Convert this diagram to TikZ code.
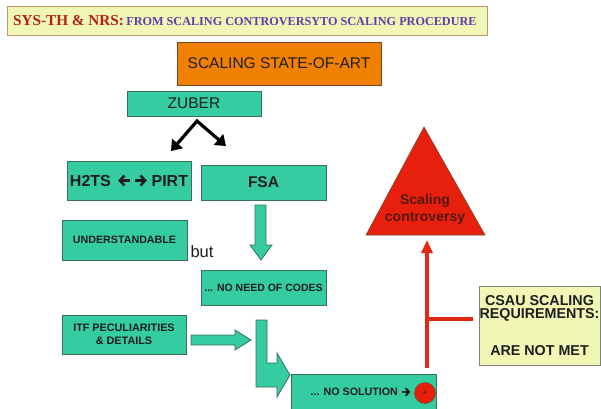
\documentclass[tikz,border=0pt]{standalone}
\usepackage{fontspec}
\setmainfont{Liberation Sans}
\newfontfamily\titleserif{Liberation Serif}
\usetikzlibrary{arrows.meta}

\definecolor{teal1}{RGB}{52,204,160}
\definecolor{tealedge}{RGB}{60,110,90}
\definecolor{orange1}{RGB}{240,128,0}
\definecolor{orangeedge}{RGB}{120,70,40}
\definecolor{paleyel}{RGB}{240,246,180}
\definecolor{titleedge}{RGB}{190,150,110}
\definecolor{titlered}{RGB}{180,30,30}
\definecolor{titlepurple}{RGB}{100,60,170}
\definecolor{redfill}{RGB}{230,32,12}
\definecolor{redline}{RGB}{228,40,20}
\definecolor{txtdark}{RGB}{30,30,30}
\definecolor{trianglesay}{RGB}{85,25,20}

% heavy in-line arrows with chevron heads, centred on the capitals:
% #1 = length, #2 = stroke, #3 = head width
\newcommand{\chevright}[3]{\tikz[baseline={(0pt,-0.7ex)}]\draw[txtdark, line width=#2,
  line cap=butt, -{Straight Barb[length=0.45*#3,width=#3,line width=#2]}] (0pt,0pt) -- (#1,0pt);}
\newcommand{\chevleft}[3]{\tikz[baseline={(0pt,-0.7ex)}]\draw[txtdark, line width=#2,
  line cap=butt, {Straight Barb[length=0.45*#3,width=#3,line width=#2]}-] (0pt,0pt) -- (#1,0pt);}

\tikzset{
  tealbox/.style={draw=tealedge, line width=0.8pt, fill=teal1, inner sep=0pt,
    text=txtdark, font=\bfseries},
  blockarrow/.style={draw=tealedge, line width=0.8pt, fill=teal1},
  splitarrow/.style={line width=3.2pt, line join=miter,
    {Triangle[length=10pt,width=14pt]}-{Triangle[length=10pt,width=14pt]}},
}

\begin{document}
\begin{tikzpicture}[x=1pt,y=-1pt]
\useasboundingbox (0,0) rectangle (601,408);
\begin{scope}
\clip (0,0) rectangle (601,408);

% title banner
\node[draw=titleedge, line width=1pt, fill=paleyel, minimum width=480pt,
  minimum height=29pt, inner sep=0pt] (title) at (247,20.5) {};
\node[anchor=west, inner sep=0pt] (titletxt) at (13,21)
  {\titleserif\bfseries{\fontsize{15.2}{16}\selectfont\color{titlered}SYS-TH \& NRS:}
   {\fontsize{12.2}{13}\selectfont\color{titlepurple}FROM SCALING CONTROVERSYTO SCALING PROCEDURE}};

% state of the art
\node[draw=orangeedge, line width=0.8pt, fill=orange1, minimum width=204pt,
  minimum height=43pt, inner sep=0pt, text=txtdark,
  font=\fontsize{15.5}{16}\selectfont] (state) at (279,63.5) {SCALING STATE-OF-ART};

% Zuber and its two branches
\node[tealbox, minimum width=134pt, minimum height=25pt, font=\fontsize{15.5}{16}\selectfont]
  (zuber) at (194,103.5) {ZUBER};
\coordinate (zsplit) at (197,121);
\coordinate (toh2ts) at (171,151);
\coordinate (tofsa) at (226,146);
\draw[splitarrow] (toh2ts) -- (zsplit) -- (tofsa);

\node[tealbox, minimum width=124pt, minimum height=39pt,
  font=\bfseries\fontsize{16}{17}\selectfont] (h2ts) at (129,180.5)
  {H2TS\hspace{6pt}\chevleft{12pt}{2.6pt}{10pt}\hspace{2pt}\chevright{12pt}{2.6pt}{10pt}\hspace{3.5pt}PIRT};
\node[tealbox, minimum width=125pt, minimum height=35pt,
  font=\bfseries\fontsize{15.5}{16}\selectfont] (fsa) at (263.5,182.5) {FSA};

\node[tealbox, minimum width=125pt, minimum height=40pt,
  font=\bfseries\fontsize{10.7}{11}\selectfont] (under) at (124.5,240) {UNDERSTANDABLE};
\node[inner sep=0pt, text=txtdark, font=\fontsize{16.5}{17}\selectfont] (but) at (202,252) {but};

% FSA leads down to "no need of codes"
\draw[blockarrow] (255,205) -- (266,205) -- (266,245) -- (272,245) -- (261,260)
  -- (250,245) -- (255,245) -- cycle;
\node[tealbox, minimum width=125pt, minimum height=35pt,
  font=\bfseries\fontsize{10.5}{11}\selectfont] (nocodes) at (263.5,287.5) {... NO NEED OF CODES};

\node[tealbox, minimum width=124pt, minimum height=39pt, align=center,
  font=\bfseries\fontsize{10.8}{13}\selectfont] (itf) at (124,334.5)
  {ITF PECULIARITIES\\\& DETAILS};

% ITF arrow and bent arrow into "no solution"
\draw[blockarrow] (191,335) -- (235,335) -- (235,330) -- (251,340) -- (235,350)
  -- (235,345) -- (191,345) -- cycle;
\draw[blockarrow] (256,320) -- (267,320) -- (267,363) -- (277,363) -- (277,353)
  -- (290,375) -- (277,397) -- (277,387) -- (256,387) -- cycle;

\node[tealbox, minimum width=145pt, minimum height=44pt] (nosol) at (363.5,396) {};
\node[inner sep=0pt, text=txtdark, font=\bfseries\fontsize{10.7}{11}\selectfont] (nosoltxt)
  at (361,392) {... NO SOLUTION \chevright{8.5pt}{1.9pt}{7.5pt}};
\node[draw=orangeedge, line width=0.6pt, fill=redfill, circle,
  minimum size=21pt, inner sep=0pt, text=txtdark, font=\fontsize{5}{5}\selectfont]
  (circA) at (425,393) {A};

% scaling controversy triangle
\coordinate (tapex) at (424,127);
\coordinate (tleft) at (366,235);
\coordinate (tright) at (485,235);
\draw[draw=orangeedge, line width=0.6pt, fill=redfill] (tapex) -- (tleft) -- (tright) -- cycle;
\node[inner sep=0pt, align=center, text=trianglesay,
  font=\bfseries\fontsize{14}{17}\selectfont] (contro) at (425,209.5) {Scaling\\controversy};

% CSAU requirements box
\node[draw=gray, line width=0.8pt, fill=paleyel, minimum width=121pt,
  minimum height=79pt, inner sep=0pt, align=center, text=txtdark,
  font=\bfseries\fontsize{14.3}{13}\selectfont] (csau) at (539.5,325.5)
  {CSAU SCALING\\REQUIREMENTS:\\[24pt]ARE NOT MET};

% red connector up to the triangle, with branch from CSAU
\coordinate (redfoot) at (427,368);
\coordinate (redtop) at (427,240);
\coordinate (redjoin) at (427,319);
\coordinate (csauend) at (473,319);
\draw[redline, line width=4.5pt, -{Triangle[length=13pt,width=11pt]}] (redfoot) -- (redtop);
\draw[redline, line width=4.5pt] (redjoin) -- (csauend);
\end{scope}
\end{tikzpicture}
\end{document}
